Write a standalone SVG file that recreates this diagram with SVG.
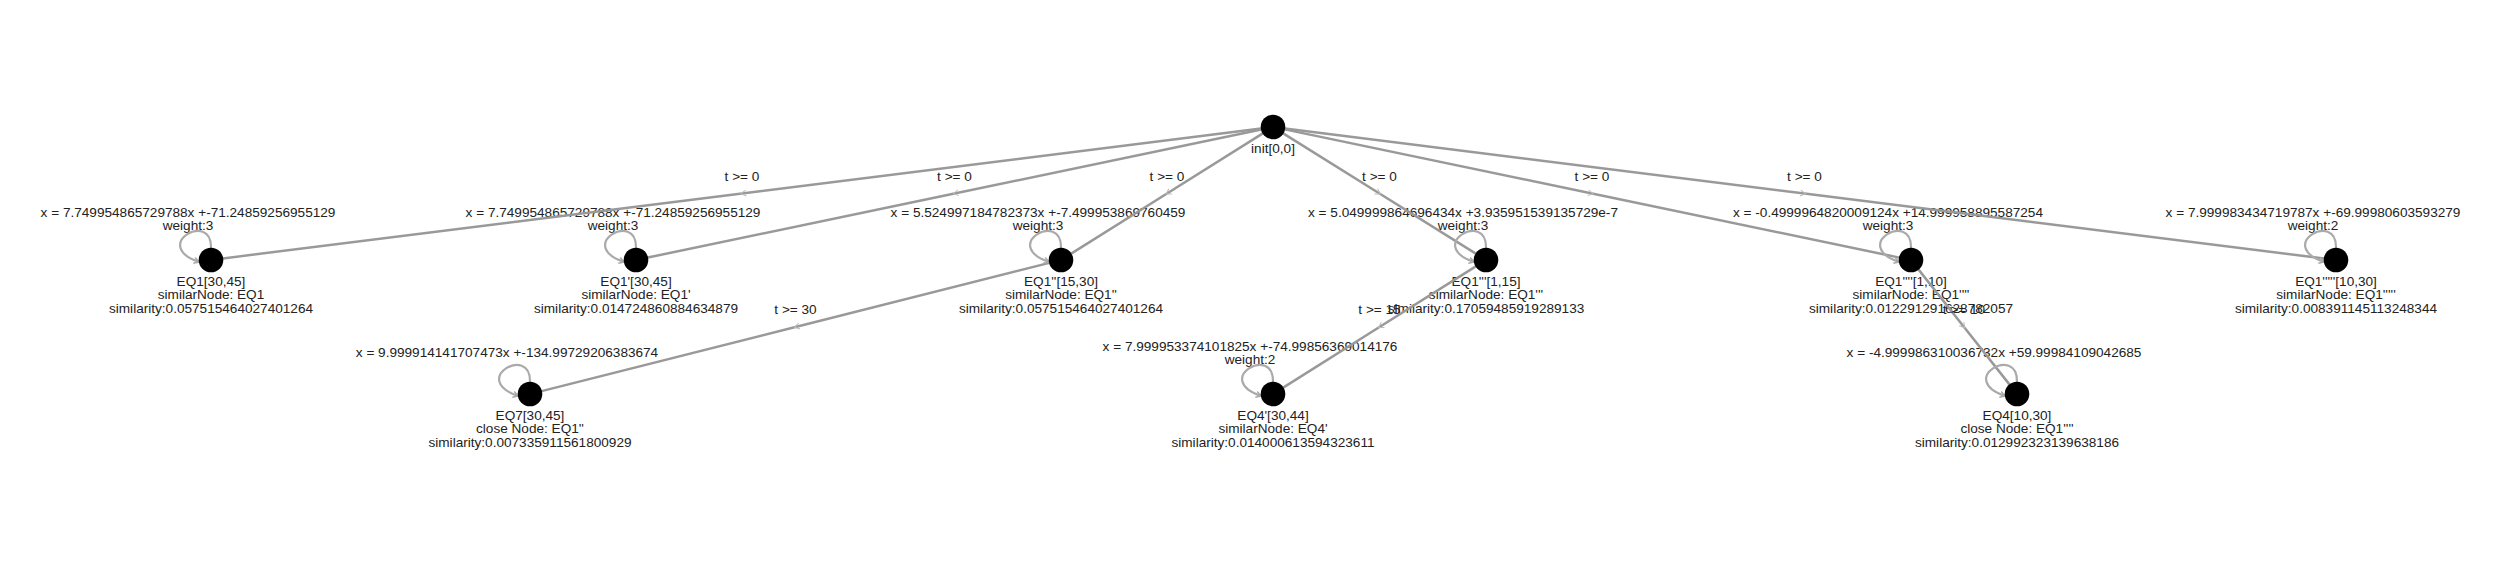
<svg xmlns="http://www.w3.org/2000/svg" xmlns:xlink="http://www.w3.org/1999/xlink" width="2500" height="562" viewBox="0 0 2500 562">
<style>
text{font-family:"Liberation Sans",Arial,sans-serif;font-size:13.6px;fill:#222;text-anchor:middle}
.node{fill:#000}
.edge{fill:none;stroke:#999;stroke-width:2.5;marker-mid:url(#mid)}
.loop{fill:none;stroke:#aaa;stroke-width:2.2;marker-end:url(#lend)}
</style>
<defs>
<marker id="mid" viewBox="-6 -5 10 10" markerWidth="10" markerHeight="10" markerUnits="userSpaceOnUse" orient="auto">
<path d="M-4,-3 L1,0 L-4,3" fill="none" stroke="#bbb" stroke-width="1"/>
</marker>
<marker id="lend" viewBox="-6 -5 10 10" markerWidth="10" markerHeight="10" markerUnits="userSpaceOnUse" orient="auto">
<path d="M-5,-3 L0,0 L-5,3" fill="none" stroke="#aaa" stroke-width="1.5"/>
</marker>
<path id="loopPath" d="M0,-12 C1,-50 -61,-15 -12,2" class="loop"/>
</defs>
<rect width="2500" height="562" fill="#fff"/>

<g id="node-init">
<text x="1273" y="152.5">init[0,0]</text>
</g>
<g id="node-EQ1">
<text x="188" y="216.5">x = 7.749954865729788x +-71.24859256955129</text>
<text x="188" y="230">weight:3</text>
<text x="211" y="285.5">EQ1[30,45]</text>
<text x="211" y="299">similarNode: EQ1</text>
<text x="211" y="312.5">similarity:0.057515464027401264</text>
</g>
<g id="node-EQ1p">
<text x="613" y="216.5">x = 7.749954865729788x +-71.24859256955129</text>
<text x="613" y="230">weight:3</text>
<text x="636" y="285.5">EQ1'[30,45]</text>
<text x="636" y="299">similarNode: EQ1'</text>
<text x="636" y="312.5">similarity:0.014724860884634879</text>
</g>
<g id="node-EQ1pp">
<text x="1038" y="216.5">x = 5.524997184782373x +-7.499953869760459</text>
<text x="1038" y="230">weight:3</text>
<text x="1061" y="285.5">EQ1''[15,30]</text>
<text x="1061" y="299">similarNode: EQ1''</text>
<text x="1061" y="312.5">similarity:0.057515464027401264</text>
</g>
<g id="node-EQ1ppp">
<text x="1463" y="216.5">x = 5.049999864696434x +3.935951539135729e-7</text>
<text x="1463" y="230">weight:3</text>
<text x="1486" y="285.5">EQ1'''[1,15]</text>
<text x="1486" y="299">similarNode: EQ1'''</text>
<text x="1486" y="312.5">similarity:0.17059485919289133</text>
</g>
<g id="node-EQ1pppp">
<text x="1888" y="216.5">x = -0.4999964820009124x +14.999958895587254</text>
<text x="1888" y="230">weight:3</text>
<text x="1911" y="285.5">EQ1''''[1,10]</text>
<text x="1911" y="299">similarNode: EQ1''''</text>
<text x="1911" y="312.5">similarity:0.012291291628782057</text>
</g>
<g id="node-EQ1ppppp">
<text x="2313" y="216.5">x = 7.999983434719787x +-69.99980603593279</text>
<text x="2313" y="230">weight:2</text>
<text x="2336" y="285.5">EQ1'''''[10,30]</text>
<text x="2336" y="299">similarNode: EQ1'''''</text>
<text x="2336" y="312.5">similarity:0.008391145113248344</text>
</g>
<g id="node-EQ7">
<text x="507" y="357">x = 9.999914141707473x +-134.99729206383674</text>
<text x="530" y="419.5">EQ7[30,45]</text>
<text x="530" y="433">close Node: EQ1''</text>
<text x="530" y="446.5">similarity:0.007335911561800929</text>
</g>
<g id="node-EQ4p">
<text x="1250" y="350.5">x = 7.999953374101825x +-74.99856369014176</text>
<text x="1250" y="364">weight:2</text>
<text x="1273" y="419.5">EQ4'[30,44]</text>
<text x="1273" y="433">similarNode: EQ4'</text>
<text x="1273" y="446.5">similarity:0.014000613594323611</text>
</g>
<g id="node-EQ4">
<text x="1994" y="357">x = -4.999986310036732x +59.99984109042685</text>
<text x="2017" y="419.5">EQ4[10,30]</text>
<text x="2017" y="433">close Node: EQ1''''</text>
<text x="2017" y="446.5">similarity:0.012992323139638186</text>
</g>

<g id="connectors">
<path class="edge" d="M1261.1,128.5 L742,193.5 L222.9,258.5"/>
<path class="edge" d="M1261.25,129.45 L954.5,193.5 L647.75,257.55"/>
<path class="edge" d="M1262.8,133.4 L1167,193.5 L1071.2,253.6"/>
<path class="edge" d="M1283.2,133.4 L1379.5,193.5 L1475.8,253.6"/>
<path class="edge" d="M1284.7,129.4 L1592,193.5 L1899.3,257.6"/>
<path class="edge" d="M1284.9,128.5 L1804.5,193.5 L2324.1,258.5"/>
<path class="edge" d="M1049.4,262.9 L795.5,327 L541.6,391.1"/>
<path class="edge" d="M1475.8,266.4 L1379.5,327 L1283.2,387.6"/>
<path class="edge" d="M1918.4,269.4 L1964,327 L2009.6,384.6"/>
<use xlink:href="#loopPath" x="211" y="260"/>
<use xlink:href="#loopPath" x="636" y="260"/>
<use xlink:href="#loopPath" x="1061" y="260"/>
<use xlink:href="#loopPath" x="1486" y="260"/>
<use xlink:href="#loopPath" x="1911" y="260"/>
<use xlink:href="#loopPath" x="2336" y="260"/>
<use xlink:href="#loopPath" x="530" y="394"/>
<use xlink:href="#loopPath" x="1273" y="394"/>
<use xlink:href="#loopPath" x="2017" y="394"/>
<text x="742" y="180.5">t &gt;= 0</text>
<text x="954.5" y="180.5">t &gt;= 0</text>
<text x="1167" y="180.5">t &gt;= 0</text>
<text x="1379.5" y="180.5">t &gt;= 0</text>
<text x="1592" y="180.5">t &gt;= 0</text>
<text x="1804.5" y="180.5">t &gt;= 0</text>
<text x="795.5" y="314">t &gt;= 30</text>
<text x="1379.5" y="314">t &gt;= 15</text>
<text x="1964" y="314">t &gt;= 10</text>
</g>

<g id="node-shapes">
<circle class="node" cx="1273" cy="127" r="12.3"/>
<circle class="node" cx="211" cy="260" r="12.3"/>
<circle class="node" cx="636" cy="260" r="12.3"/>
<circle class="node" cx="1061" cy="260" r="12.3"/>
<circle class="node" cx="1486" cy="260" r="12.3"/>
<circle class="node" cx="1911" cy="260" r="12.3"/>
<circle class="node" cx="2336" cy="260" r="12.3"/>
<circle class="node" cx="530" cy="394" r="12.3"/>
<circle class="node" cx="1273" cy="394" r="12.3"/>
<circle class="node" cx="2017" cy="394" r="12.3"/>
</g>
</svg>
